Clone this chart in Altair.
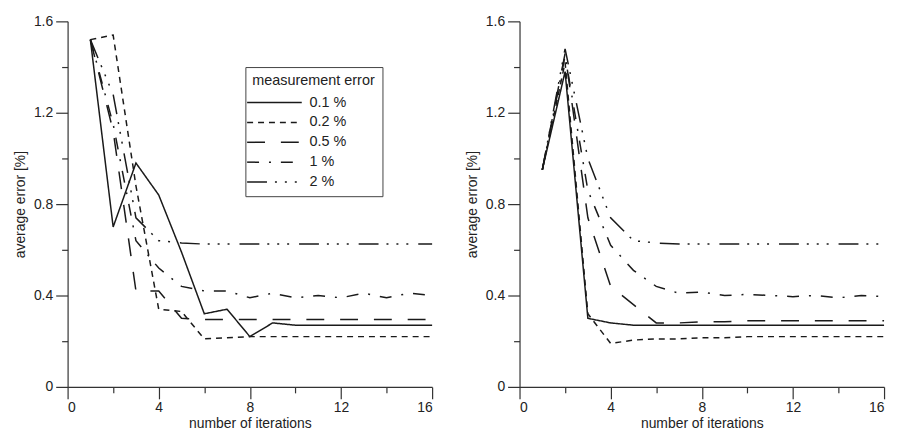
import altair as alt
import pandas as pd

iterations = list(range(1, 17))
series_labels = ["0.1 %", "0.2 %", "0.5 %", "1 %", "2 %"]

# left panel
left_01 = [1.52, 0.70, 0.98, 0.84, 0.59, 0.32, 0.34, 0.22, 0.28, 0.27, 0.27, 0.27, 0.27, 0.27, 0.27, 0.27]
left_02 = [1.52, 1.54, 0.88, 0.34, 0.33, 0.21, 0.215, 0.22, 0.22, 0.22, 0.22, 0.22, 0.22, 0.22, 0.22, 0.22]
left_05 = [1.52, 1.12, 0.42, 0.42, 0.30, 0.295, 0.295, 0.295, 0.295, 0.295, 0.295, 0.295, 0.295, 0.295, 0.295, 0.295]
left_1 = [1.52, 1.15, 0.64, 0.52, 0.44, 0.42, 0.42, 0.39, 0.41, 0.39, 0.40, 0.39, 0.41, 0.39, 0.41, 0.40]
left_2 = [1.52, 1.28, 0.74, 0.64, 0.63, 0.625, 0.625, 0.625, 0.625, 0.625, 0.625, 0.625, 0.625, 0.625, 0.625, 0.625]

# right panel
right_01 = [0.95, 1.38, 0.30, 0.28, 0.27, 0.27, 0.27, 0.27, 0.27, 0.27, 0.27, 0.27, 0.27, 0.27, 0.27, 0.27]
right_02 = [0.95, 1.42, 0.32, 0.19, 0.205, 0.21, 0.21, 0.215, 0.215, 0.22, 0.22, 0.22, 0.22, 0.22, 0.22, 0.22]
right_05 = [0.95, 1.46, 0.74, 0.44, 0.36, 0.28, 0.28, 0.285, 0.285, 0.29, 0.29, 0.29, 0.29, 0.29, 0.29, 0.29]
right_1 = [0.95, 1.45, 0.86, 0.62, 0.51, 0.44, 0.41, 0.415, 0.40, 0.405, 0.40, 0.395, 0.40, 0.39, 0.40, 0.395]
right_2 = [0.95, 1.48, 1.00, 0.74, 0.64, 0.63, 0.625, 0.625, 0.625, 0.625, 0.625, 0.625, 0.625, 0.625, 0.625, 0.625]

dash_styles = [[1, 0], [6, 5], [18, 16], [12, 10, 2, 10], [20, 8, 2, 8, 2, 8, 2, 10]]

FONT = "Liberation Sans"
INK = "#1a1a1a"


def frame(columns):
    rows = []
    for label, vals in zip(series_labels, columns):
        for it, v in zip(iterations, vals):
            rows.append({"iteration": it, "error": v, "series": label})
    return pd.DataFrame(rows)


left_df = frame([left_01, left_02, left_05, left_1, left_2])
right_df = frame([right_01, right_02, right_05, right_1, right_2])

x_axis = alt.Axis(
    values=list(range(0, 17, 2)),
    labelExpr="datum.value % 4 === 0 ? datum.label : ''",
    tickSize={"condition": {"test": "datum.value % 4 === 0", "value": 12}, "value": 6},
    title="number of iterations",
    grid=False,
    labelPadding=2,
    titlePadding=2,
)
y_axis = alt.Axis(
    values=[0, 0.2, 0.4, 0.6, 0.8, 1.0, 1.2, 1.4, 1.6],
    format="~g",
    labelExpr="round(datum.value * 10) % 4 === 0 ? datum.label : ''",
    tickSize={"condition": {"test": "round(datum.value * 10) % 4 === 0", "value": 12}, "value": 6},
    title="average error [%]",
    grid=False,
    labelPadding=3,
    titlePadding=6,
)


def panel(df, legend):
    return alt.Chart(df).mark_line(strokeWidth=1.5, color=INK).encode(
        x=alt.X("iteration:Q", scale=alt.Scale(domain=[0, 16], nice=False), axis=x_axis),
        y=alt.Y("error:Q", scale=alt.Scale(domain=[0, 1.6], nice=False), axis=y_axis),
        strokeDash=alt.StrokeDash(
            "series:N",
            scale=alt.Scale(domain=series_labels, range=dash_styles),
            sort=series_labels,
            legend=legend,
        ),
    ).properties(width=367, height=368)


legend = alt.Legend(
    title="measurement error",
    orient="none",
    legendX=179,
    legendY=46,
    symbolType="M-5,0H5",
    symbolSize=121,
    symbolOffset=15,
    labelOffset=28,
    symbolStrokeWidth=1.5,
    symbolStrokeColor=INK,
    strokeColor="#444",
    fillColor="white",
    padding=7,
    rowPadding=5,
    titlePadding=7,
    labelFontSize=14.5,
    titleFontSize=14.5,
    titleFontWeight="normal",
    labelFont=FONT,
    titleFont=FONT,
    labelColor="#222",
    titleColor="#222",
)

chart = alt.hconcat(panel(left_df, legend), panel(right_df, None), spacing=30).resolve_scale(
    strokeDash="independent"
).configure_view(stroke=None).configure_axis(
    labelFont=FONT,
    titleFont=FONT,
    labelFontSize=14,
    titleFontSize=14,
    titleFontWeight="normal",
    labelColor="#222",
    titleColor="#222",
    domainColor="#333",
    tickColor="#333",
    domainWidth=1.2,
    tickWidth=1.2,
)

chart.save("out.html", embed_options={"renderer": "svg", "actions": False})
